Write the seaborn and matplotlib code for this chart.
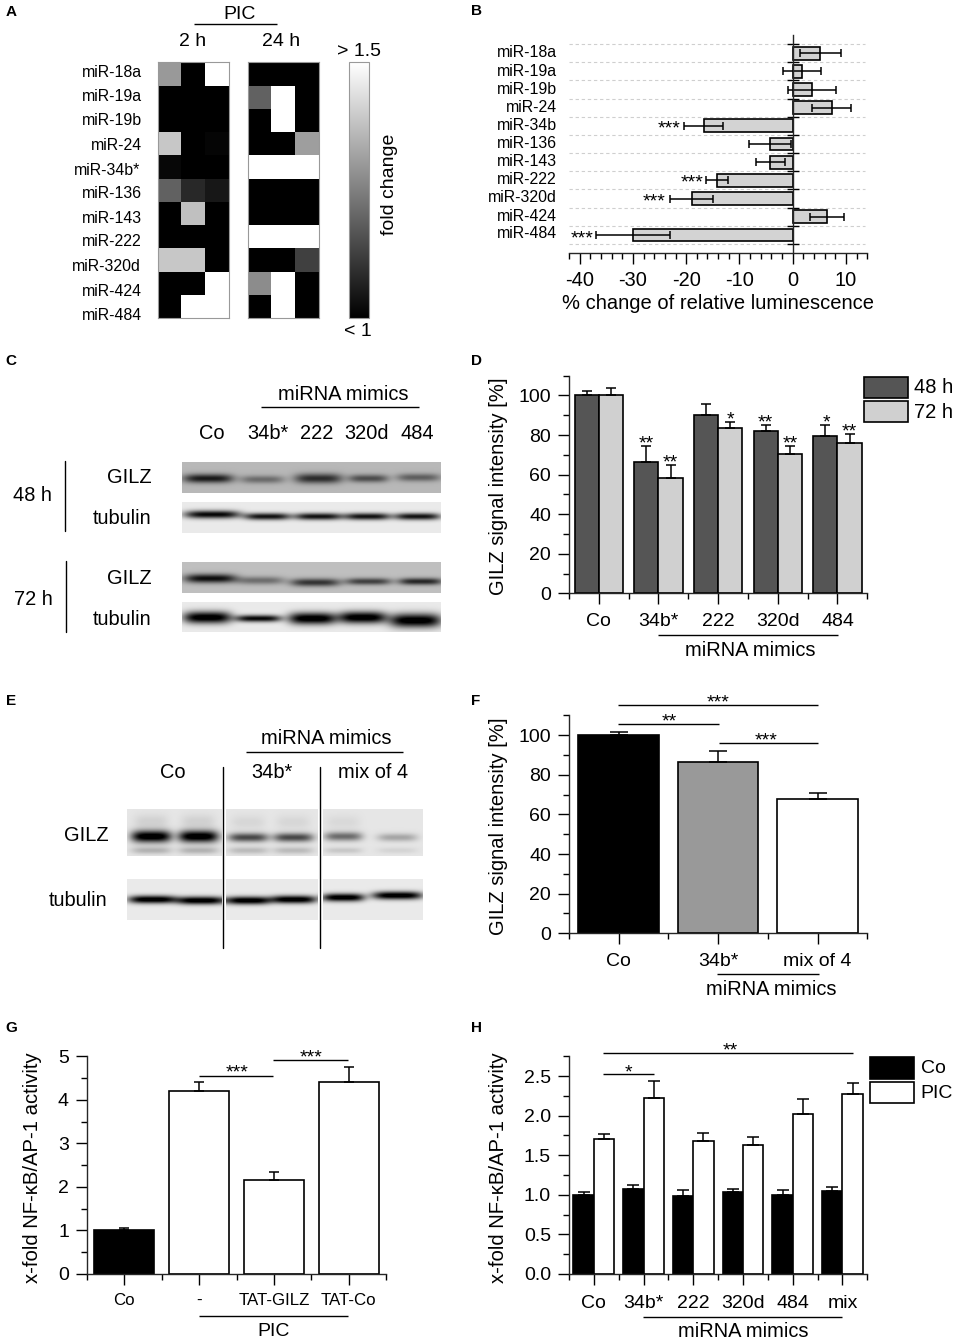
import numpy as np
import pandas as pd
import matplotlib
matplotlib.use("Agg")
import matplotlib.pyplot as plt
from matplotlib.patches import Rectangle
from matplotlib.ticker import FormatStrFormatter
import seaborn as sns

W, H = 956, 1341

# panel A: heatmap values, 0 = black (< 1), 1 = white (> 1.5)
mirs = ["miR-18a", "miR-19a", "miR-19b", "miR-24", "miR-34b*", "miR-136",
        "miR-143", "miR-222", "miR-320d", "miR-424", "miR-484"]
heat_2h = [[0.60, 0, 1], [0, 0, 0], [0, 0, 0], [0.78, 0, 0.02], [0.03, 0, 0],
           [0.38, 0.16, 0.09], [0, 0.75, 0], [0, 0, 0], [0.78, 0.78, 0],
           [0, 0, 1], [0, 1, 1]]
heat_24h = [[0, 0, 0], [0.38, 1, 0], [0, 1, 0], [0, 0, 0.62], [1, 1, 1],
            [0, 0, 0], [0, 0, 0], [1, 1, 1], [0, 0, 0.25], [0.55, 1, 0],
            [0, 1, 0]]
mir_label_y = [71.7, 95, 119.3, 144, 169, 192.7, 217.7, 240.7, 265.7, 290, 314]
mir_label_x = [141.7, 141.7, 141.7, 142.5, 140, 141.7, 141.7, 141.7, 140.3, 141.7, 141.7]

# panel B
lum_mirs = ["miR-18a", "miR-19a", "miR-19b", "miR-24", "miR-34b", "miR-136",
            "miR-143", "miR-222", "miR-320d", "miR-424", "miR-484"]
lum_change = [5.2, 1.7, 3.6, 7.3, -16.7, -4.3, -4.2, -14.2, -19.0, 6.4, -30.0]
lum_err = [3.8, 3.6, 4.5, 3.6, 3.7, 3.9, 2.7, 2.1, 4.0, 3.2, 6.9]
lum_label_y = [51.7, 70, 88, 106, 124.3, 142.3, 160.3, 178.3, 196.7, 215, 232.7]

# panel D
d_groups = ["Co", "34b*", "222", "320d", "484"]
d_48h = [100, 66.5, 90, 82, 79.5]
d_72h = [100, 58.2, 83.6, 70.2, 76.2]
d_48h_top = [102.4, 74.5, 95.6, 85, 85.2]
d_72h_top = [103.9, 64.9, 86.5, 74.5, 80.6]

# panel F
f_groups = ["Co", "34b*", "mix of 4"]
f_vals = [100, 86.4, 67.7]
f_top = [101.4, 92, 70.6]

# panel G
g_groups = ["Co", "-", "TAT-GILZ", "TAT-Co"]
g_vals = [1.0, 4.2, 2.17, 4.41]
g_top = [1.05, 4.4, 2.35, 4.76]

# panel H
h_groups = ["Co", "34b*", "222", "320d", "484", "mix"]
h_co = [1.0, 1.08, 0.99, 1.03, 1.0, 1.05]
h_pic = [1.71, 2.22, 1.68, 1.634, 2.017, 2.27]
h_co_top = [1.04, 1.118, 1.055, 1.076, 1.055, 1.105]
h_pic_top = [1.773, 2.437, 1.786, 1.735, 2.206, 2.408]

# western blots: x, y, half width, half height, darkness
blot_c_gilz48 = [(208, 478, 25, 4.5, 0.62), (262, 479, 22, 4, 0.30), (318, 478, 24, 5, 0.55),
                 (368, 478, 20, 4, 0.42), (418, 477, 22, 4, 0.35)]
blot_c_tub48 = [(212, 514, 28, 4, 0.9), (267, 516, 23, 3.5, 0.85), (318, 516, 24, 3.5, 0.85),
                (367, 516, 23, 3.5, 0.85), (417, 516, 23, 3.5, 0.85)]
blot_c_gilz72 = [(210, 578, 26, 4.5, 0.7), (260, 580, 24, 4, 0.32), (315, 582, 25, 4, 0.55),
                 (368, 581, 23, 3.5, 0.5), (420, 581, 22, 3.5, 0.6)]
blot_c_tub72 = [(207, 617, 24, 6, 1.0), (258, 618, 23, 3.5, 0.9), (312, 618, 24, 6, 1.0),
                (362, 617, 24, 6, 1.0), (415, 620, 26, 7, 1.0)]
blot_e_gilz = [(151, 836, 20, 6, 1.0), (198, 836, 20, 6, 1.0), (248, 837, 20, 4.5, 0.62),
               (293, 837, 20, 4.5, 0.62), (343, 836, 19, 4.5, 0.48), (397, 837, 20, 4, 0.25),
               (151, 850, 20, 3.5, 0.2), (198, 850, 20, 3.5, 0.2), (248, 850, 20, 3.5, 0.17),
               (293, 850, 20, 3.5, 0.17), (343, 850, 19, 3, 0.12), (397, 850, 20, 3, 0.07),
               (151, 821, 17, 7, 0.08), (198, 821, 17, 7, 0.08), (248, 822, 17, 7, 0.06),
               (293, 822, 17, 7, 0.06), (343, 822, 17, 7, 0.05)]
blot_e_tub = [(152, 899, 24, 4, 1.0), (200, 900, 24, 4, 1.0), (248, 900, 22, 4, 1.0),
              (293, 899, 23, 4, 1.0), (343, 897, 21, 4, 1.0), (397, 895, 25, 4, 1.0)]

sns.set_theme(style="ticks")
plt.rcParams["font.family"] = ["Liberation Sans", "DejaVu Sans"]
plt.rcParams["axes.linewidth"] = 1.0
plt.rcParams["xtick.color"] = "black"
plt.rcParams["ytick.color"] = "black"
plt.rcParams["axes.unicode_minus"] = False

fig = plt.figure(figsize=(W / 100, H / 100), dpi=100, facecolor="white")

# transparent layer in image pixels, for labels, brackets and blots
top = fig.add_axes([0, 0, 1, 1], zorder=10)
top.patch.set_alpha(0)
top.axis("off")


def px_axes(x0, y0, x1, y1):
    return fig.add_axes([x0 / W, 1 - y1 / H, (x1 - x0) / W, (y1 - y0) / H])


def label(x, y, s, size=14.4, ha="center", **kw):
    # va center sits a little high for this font
    if "rotation" not in kw:
        y = y + 1.2
    top.text(x, y, s, fontsize=size, ha=ha, va="center", color="black", **kw)


def hline(x0, x1, y, lw=1.0):
    top.plot([x0, x1], [y, y], color="black", lw=lw, solid_capstyle="butt")


def stars(x, y, s, size=14):
    # the asterisk sits high in the font, so place it by its baseline
    top.text(x, y + 0.40 * size * 100 / 72, s, fontsize=size, ha="center",
             va="baseline", color="black")


def blot(x0, y0, x1, y1, bg, bands):
    xx, yy = np.meshgrid(np.arange(x0, x1), np.arange(y0, y1))
    img = np.full(xx.shape, float(bg))
    for bx, by, hw, hh, dark in bands:
        img -= dark * np.exp(-(((xx - bx) / hw) ** 4)) * np.exp(-(((yy - by) / hh) ** 2))
    top.imshow(np.clip(img, 0, 1), cmap="gray", vmin=0, vmax=1, aspect="auto",
               extent=[x0, x1, y1, y0], interpolation="bilinear")


def style_axes(ax, yticks, yminor, bounds, label_size=14, label_pad=6.5):
    sns.despine(ax=ax)
    ax.set_xlabel("")
    ax.set_ylabel("")
    ax.set_yticks(yticks)
    ax.set_yticks(yminor, minor=True)
    ax.set_xticks(bounds, minor=True)
    ax.tick_params(axis="y", which="major", length=8, width=1, labelsize=14, pad=5)
    ax.tick_params(axis="y", which="minor", length=4, width=1)
    ax.tick_params(axis="x", which="major", length=8, width=1, labelsize=label_size, pad=label_pad)
    ax.tick_params(axis="x", which="minor", length=4, width=1)


# A: heatmaps
ax = px_axes(157.7, 62.3, 229, 318.3)
sns.heatmap(pd.DataFrame(heat_2h, index=mirs), cmap="gray", vmin=0, vmax=1, cbar=False,
            xticklabels=False, yticklabels=False, ax=ax)
ax2 = px_axes(247.5, 62.3, 318.5, 318.3)
cax = px_axes(349, 62.3, 368.7, 318.3)
sns.heatmap(pd.DataFrame(heat_24h, index=mirs), cmap="gray", vmin=0, vmax=1, cbar_ax=cax,
            xticklabels=False, yticklabels=False, ax=ax2)
cax.tick_params(length=0, labelright=False)
cbar = ax2.collections[0].colorbar
cbar.outline.set_edgecolor("#999999")
cbar.outline.set_linewidth(0.8)
for a in (ax, ax2):
    for sp in a.spines.values():
        sp.set_visible(True)
        sp.set_edgecolor("#999999")
        sp.set_linewidth(0.8)
for name, x, y in zip(mirs, mir_label_x, mir_label_y):
    label(x, y, name, size=11.4, ha="right")
label(239.3, 13, "PIC", size=14)
hline(194.3, 277.3, 24)
label(193, 40, "2 h", size=14)
label(281, 40, "24 h", size=14)
label(359, 50, "> 1.5", size=14)
label(358, 330.7, "< 1", size=14)
label(390, 184, "fold change", size=14, rotation=90)

# B: luminescence bars
ax = px_axes(569, 35, 867.3, 252.7)
sns.barplot(x=lum_change, y=lum_mirs, orient="h", color="#d3d3d3", saturation=1, width=0.7,
            edgecolor="black", linewidth=1.2, errorbar=None, ax=ax)
ax.errorbar(lum_change, range(len(lum_mirs)), xerr=lum_err, fmt="none", ecolor="black",
            elinewidth=1.1, capsize=3, capthick=1.1)
ax.set_xlim(-41.95, 14)
ax.set_ylim(10.98, -1)
edges = np.arange(12) - 0.5
ax.hlines(edges, -41.95, 13.5, color="#cfcfcf", ls=(0, (3, 2.5)), lw=0.8, zorder=0)
sns.despine(ax=ax)
ax.spines["left"].set_position(("data", 0))
ax.set_yticks(edges)
ax.set_yticklabels([])
ax.tick_params(axis="y", direction="inout", length=8.4, width=1)
ax.set_xticks([-40, -30, -20, -10, 0, 10])
ax.set_xticks(np.arange(-42, 15, 2), minor=True)
ax.tick_params(axis="x", which="major", length=8, width=1, labelsize=14.4, pad=5)
ax.tick_params(axis="x", which="minor", length=4, width=1)
for name, y in zip(lum_mirs, lum_label_y):
    label(556.7, y, name, size=11.4, ha="right")
label(717.7, 302.7, "% change of relative luminescence", size=14.5)
stars(669, 126, "***")
stars(692, 180, "***")
stars(654.5, 199, "***")
stars(582, 235.5, "***")

# C: blots
blot(182, 462, 441, 493, 0.72, blot_c_gilz48)
blot(182, 502, 441, 533, 0.92, blot_c_tub48)
blot(182, 562, 441, 593, 0.75, blot_c_gilz72)
blot(182, 602, 441, 632, 0.92, blot_c_tub72)
label(343.3, 393.3, "miRNA mimics")
hline(261, 419.3, 407.3)
for s, x in zip(d_groups, [211.7, 267.7, 316.7, 366.7, 417.3]):
    label(x, 432.7, s)
label(151.7, 476.7, "GILZ", ha="right")
label(151.7, 517.3, "tubulin", ha="right")
label(151.7, 577.7, "GILZ", ha="right")
label(151.7, 618.3, "tubulin", ha="right")
label(32.7, 494, "48 h")
label(33, 598.3, "72 h")
top.plot([65, 65], [461, 531], color="black", lw=1)
top.plot([66, 66], [561.3, 631.7], color="black", lw=1)

# D: GILZ at 48 h and 72 h
d_df = pd.DataFrame({"group": d_groups * 2, "val": d_48h + d_72h,
                     "time": ["48 h"] * 5 + ["72 h"] * 5})
ax = px_axes(569, 375.7, 867.3, 593.3)
sns.barplot(data=d_df, x="group", y="val", hue="time", palette=["#555555", "#d0d0d0"],
            saturation=1, width=0.81, gap=0, edgecolor="black", linewidth=1.2,
            errorbar=None, legend=False, ax=ax)
for bars, vals, tops in zip(ax.containers, [d_48h, d_72h], [d_48h_top, d_72h_top]):
    xs = [b.get_x() + b.get_width() / 2 for b in bars]
    ax.errorbar(xs, vals, yerr=[[0] * 5, np.subtract(tops, vals)], fmt="none", ecolor="black",
                elinewidth=1.1, capsize=3.6, capthick=1.1)
ax.set_xlim(-0.5, 4.5)
ax.set_ylim(0, 110)
style_axes(ax, range(0, 101, 20), range(10, 111, 20), np.arange(6) - 0.5)
label(498.3, 486.7, "GILZ signal intensity [%]", size=14.5, rotation=90)
hline(658.3, 837.7, 634.7)
label(750, 649.3, "miRNA mimics")
for x, y, s in [(646.3, 440.7, "**"), (670.3, 459.3, "**"), (730, 416.7, "*"), (765.7, 420, "**"),
                (790, 440.7, "**"), (826.3, 419.3, "*"), (849.3, 428.7, "**")]:
    stars(x, y, s)
top.add_patch(Rectangle((864.3, 376.7), 44, 21, fc="#555555", ec="black", lw=1.2))
top.add_patch(Rectangle((864.3, 401.3), 44, 21, fc="#d0d0d0", ec="black", lw=1.2))
label(914, 386.7, "48 h", size=14.5, ha="left")
label(914, 411, "72 h", size=14.5, ha="left")

# E: blots
blot(127, 809, 423, 856, 0.90, blot_e_gilz)
blot(127, 879, 423, 920, 0.92, blot_e_tub)
top.add_patch(Rectangle((222, 800), 4, 130, fc="white", ec="none"))
top.add_patch(Rectangle((318, 800), 5, 130, fc="white", ec="none"))
top.plot([223.3, 223.3], [767, 947.7], color="black", lw=1)
top.plot([320.5, 320.5], [767, 947.7], color="black", lw=1)
label(326.7, 737.3, "miRNA mimics")
hline(245.7, 403.3, 751.7)
label(172.3, 771.7, "Co")
label(271.7, 771.7, "34b*")
label(373.3, 771.7, "mix of 4")
label(108.3, 834, "GILZ", ha="right")
label(107.7, 899.3, "tubulin", ha="right")

# F
ax = px_axes(569, 715, 867.3, 933.3)
sns.barplot(x=f_groups, y=f_vals, hue=f_groups, palette=["black", "#999999", "white"],
            saturation=1, width=0.81, edgecolor="black", linewidth=1.2, errorbar=None,
            legend=False, ax=ax)
ax.errorbar(range(3), f_vals, yerr=[[0] * 3, np.subtract(f_top, f_vals)], fmt="none",
            ecolor="black", elinewidth=1.1, capsize=6.5, capthick=1.1)
ax.set_xlim(-0.5, 2.5)
ax.set_ylim(0, 110.2)
style_axes(ax, range(0, 101, 20), range(10, 111, 20), np.arange(4) - 0.5)
label(498.3, 826.7, "GILZ signal intensity [%]", size=14.5, rotation=90)
hline(618.3, 817.7, 705)
stars(718.3, 699.3, "***")
hline(618.3, 719, 724)
stars(669, 718.7, "**")
hline(719, 818.3, 742.7)
stars(766, 738, "***")
hline(717.3, 818.7, 974)
label(771, 988.3, "miRNA mimics")

# G
ax = px_axes(87, 1056.3, 386, 1274)
sns.barplot(x=g_groups, y=g_vals, hue=g_groups, palette=["black", "white", "white", "white"],
            saturation=1, width=0.8, edgecolor="black", linewidth=1.2, errorbar=None,
            legend=False, ax=ax)
ax.errorbar(range(4), g_vals, yerr=[[0] * 4, np.subtract(g_top, g_vals)], fmt="none",
            ecolor="black", elinewidth=1.1, capsize=3.8, capthick=1.1)
ax.set_xlim(-0.5, 3.5)
ax.set_ylim(0, 5)
style_axes(ax, range(0, 6), np.arange(0.5, 5, 1), np.arange(5) - 0.5, label_size=12.2, label_pad=5.5)
label(32.3, 1167.5, "x-fold NF-\u03baB/AP-1 activity", size=14.6, rotation=90)
hline(199, 272.7, 1075.7)
stars(236.7, 1070, "***")
hline(273.3, 348.3, 1059.7)
stars(311, 1054.7, "***")
hline(199, 348.3, 1316)
label(273.3, 1330, "PIC", size=14)

# H
h_df = pd.DataFrame({"group": h_groups * 2, "val": h_co + h_pic,
                     "treat": ["Co"] * 6 + ["PIC"] * 6})
ax = px_axes(569, 1056.3, 867.3, 1274)
sns.barplot(data=h_df, x="group", y="val", hue="treat", palette=["black", "white"],
            saturation=1, width=0.82, gap=0, edgecolor="black", linewidth=1.2,
            errorbar=None, legend=False, ax=ax)
for bars, vals, tops in zip(ax.containers, [h_co, h_pic], [h_co_top, h_pic_top]):
    xs = [b.get_x() + b.get_width() / 2 for b in bars]
    ax.errorbar(xs, vals, yerr=[[0] * 6, np.subtract(tops, vals)], fmt="none", ecolor="black",
                elinewidth=1.1, capsize=4.3, capthick=1.1)
ax.set_xlim(-0.5, 5.5)
ax.set_ylim(0, 2.745)
style_axes(ax, np.arange(0, 2.6, 0.5), np.arange(0.25, 2.8, 0.5), np.arange(7) - 0.5, label_pad=7)
ax.yaxis.set_major_formatter(FormatStrFormatter("%.1f"))
label(498.3, 1167.5, "x-fold NF-\u03baB/AP-1 activity", size=14.6, rotation=90)
hline(603.3, 852.7, 1053.3)
stars(730, 1047.7, "**")
hline(603.3, 654, 1074.3)
stars(628.3, 1069.3, "*")
hline(643.3, 842, 1317)
label(743.3, 1330.7, "miRNA mimics")
top.add_patch(Rectangle((870, 1057.3), 44.3, 21.7, fc="black", ec="black", lw=1.2))
top.add_patch(Rectangle((870, 1081.7), 44.3, 21.3, fc="white", ec="black", lw=1.2))
label(920.7, 1067.3, "Co", size=14, ha="left")
label(920.7, 1092.3, "PIC", size=14, ha="left")

# panel letters
for s, x, y in [("A", 6, 11), ("B", 471, 10), ("C", 5, 360), ("D", 471, 360),
                ("E", 6, 700), ("F", 471, 700), ("G", 5, 1027), ("H", 471, 1027)]:
    label(x, y, s, size=11, ha="left", fontweight="bold")

top.set_xlim(0, W)
top.set_ylim(H, 0)

fig.savefig("out.png", dpi=100)
